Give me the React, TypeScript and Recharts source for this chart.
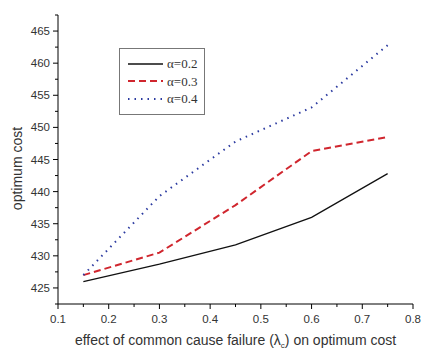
import { LineChart, Line, XAxis, YAxis, Legend, Label } from "recharts";

const lambdaC = [0.15, 0.3, 0.45, 0.6, 0.75];
const alpha02 = [426, 428.7, 431.7, 436, 442.8];
const alpha03 = [427, 430.5, 437.9, 446.3, 448.5];
const alpha04 = [427, 439.3, 447.8, 453.1, 462.8];

const xTicks = [0.1, 0.15, 0.2, 0.25, 0.3, 0.35, 0.4, 0.45, 0.5, 0.55, 0.6, 0.65, 0.7, 0.75, 0.8];
const yTicks = [422.5, 425, 427.5, 430, 432.5, 435, 437.5, 440, 442.5, 445, 447.5, 450, 452.5, 455, 457.5, 460, 462.5, 465, 467.5];

const series = [
  { key: "a02", name: "α=0.2", color: "#111111", width: 1.3, dash: undefined },
  { key: "a03", name: "α=0.3", color: "#d0262e", width: 2, dash: "7 4" },
  { key: "a04", name: "α=0.4", color: "#2b3aa0", width: 2, dash: "1.5 5" },
];

const data = lambdaC.map((x, i) => ({
  x,
  a02: alpha02[i],
  a03: alpha03[i],
  a04: alpha04[i],
}));

const sans = "'Liberation Sans', Arial, sans-serif";

function XTick(props: any) {
  const { x, y, payload } = props;
  const v = payload.value as number;
  const major = Math.round(v * 100) % 10 === 0;
  return (
    <g>
      <line x1={x} x2={x} y1={y} y2={y + (major ? 5 : 3)} stroke="#000" strokeWidth={1} />
      {major && (
        <text x={x} y={y + 19} textAnchor="middle" fontSize={11.5} fill="#333" fontFamily={sans}>
          {v.toFixed(1)}
        </text>
      )}
    </g>
  );
}

function YTick(props: any) {
  const { x, y, payload } = props;
  const v = payload.value as number;
  const major = v % 5 === 0;
  return (
    <g>
      <line x1={x} x2={x - (major ? 5 : 3)} y1={y} y2={y} stroke="#000" strokeWidth={1} />
      {major && (
        <text x={x - 8} y={y + 4} textAnchor="end" fontSize={11.5} fill="#333" fontFamily={sans}>
          {v}
        </text>
      )}
    </g>
  );
}

function LegendBox() {
  return (
    <div
      style={{
        border: "1px solid #777",
        background: "#fff",
        width: 84,
        padding: "6px 0 6px 0",
        boxSizing: "content-box",
      }}
    >
      {series.map((s) => (
        <div key={s.key} style={{ display: "flex", alignItems: "center", height: 17.5 }}>
          <svg width={44} height={10} style={{ display: "block" }}>
            <line
              x1={8}
              x2={43}
              y1={5}
              y2={5}
              stroke={s.color}
              strokeWidth={s.width}
              strokeDasharray={s.dash}
            />
          </svg>
          <span
            style={{
              fontFamily: "'Liberation Serif', 'Times New Roman', serif",
              fontSize: 13,
              color: "#333",
              marginLeft: 3,
              lineHeight: "13px",
            }}
          >
            {s.name}
          </span>
        </div>
      ))}
    </div>
  );
}

export default function App() {
  return (
    <div style={{ width: 421, height: 351, background: "#fff" }}>
      <style>{`body{margin:0;background:#fff}`}</style>
      <LineChart
        width={421}
        height={351}
        data={data}
        margin={{ top: 15, right: 8, left: 0, bottom: 0 }}
      >
        <XAxis
          dataKey="x"
          type="number"
          domain={[0.1, 0.8]}
          ticks={xTicks}
          interval={0}
          height={47}
          tickSize={0}
          tickMargin={0}
          tickLine={false}
          stroke="#000"
          tick={<XTick />}
          allowDataOverflow
        >
          <Label
            content={(p: any) => {
              const vb = p.viewBox;
              return (
                <text
                  x={vb.x + vb.width / 2}
                  y={vb.y + 41}
                  textAnchor="middle"
                  fontSize={14}
                  fill="#333"
                  fontFamily={sans}
                >
                  effect of common cause failure (λ
                  <tspan fontSize={8} dy={3}>c</tspan>
                  <tspan dy={-3}>) on optimum cost</tspan>
                </text>
              );
            }}
          />
        </XAxis>
        <YAxis
          type="number"
          domain={[422.5, 467.5]}
          ticks={yTicks}
          interval={0}
          width={58}
          tickSize={0}
          tickMargin={0}
          tickLine={false}
          stroke="#000"
          tick={<YTick />}
          allowDataOverflow
        >
          <Label
            content={(p: any) => {
              const vb = p.viewBox;
              const cx = 17;
              const cy = vb.y + vb.height / 2 + 9;
              return (
                <text
                  x={cx}
                  y={cy}
                  transform={`rotate(-90 ${cx} ${cy})`}
                  textAnchor="middle"
                  dominantBaseline="central"
                  fontSize={14}
                  fill="#333"
                  fontFamily={sans}
                >
                  optimum cost
                </text>
              );
            }}
          />
        </YAxis>
        <Legend
          layout="horizontal"
          verticalAlign="middle"
          align="center"
          wrapperStyle={{ left: 119, top: 48, width: "auto", height: "auto" }}
          content={() => <LegendBox />}
        />
        {series.map((s) => (
          <Line
            key={s.key}
            dataKey={s.key}
            name={s.name}
            type="linear"
            stroke={s.color}
            strokeWidth={s.width}
            strokeDasharray={s.dash}
            dot={false}
            activeDot={false}
            isAnimationActive={false}
          />
        ))}
      </LineChart>
    </div>
  );
}
